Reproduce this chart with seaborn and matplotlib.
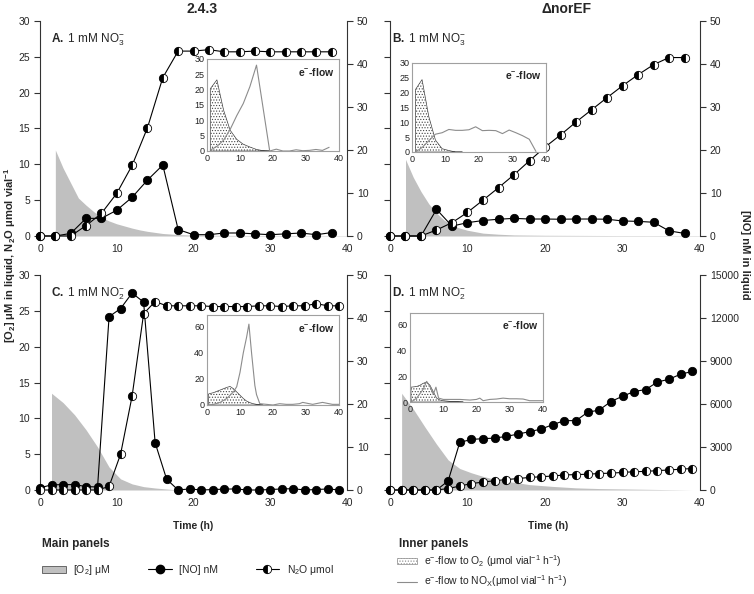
import matplotlib
matplotlib.use("Agg")
import matplotlib.pyplot as plt
import seaborn as sns
from matplotlib.lines import Line2D
from matplotlib.patches import Patch

# ---------------- data ----------------
# Panel A (2.4.3, 1 mM NO3-)
t_A = [0, 2, 4, 6, 8, 10, 12, 14, 16, 18, 20, 22, 24, 26, 28, 30, 32, 34, 36, 38]
n2o_A = [0, 0, 0, 1.45, 3.15, 5.95, 9.85, 15.1, 22.1, 25.8, 25.8, 26.0, 25.7, 25.7, 25.8, 25.7, 25.7, 25.7, 25.7, 25.7]
no_A = [0, 0, 0.6, 4.1, 4.1, 6.0, 9.0, 13.0, 16.5, 1.5, 0.3, 0.3, 0.7, 0.7, 0.5, 0.3, 0.5, 0.7, 0.3, 0.8]
o2_t_A = [2, 3, 4, 5, 6, 7, 8, 9, 10, 11, 12, 13, 14, 15, 16, 18, 20, 25, 30, 35, 40]
o2_A = [12.0, 9.5, 7.4, 5.3, 4.3, 3.4, 2.6, 2.1, 1.7, 1.4, 1.1, 0.85, 0.65, 0.5, 0.35, 0.2, 0.12, 0.08, 0.06, 0.05, 0.05]

# Panel B (ΔnorEF, 1 mM NO3-)
t_B = [0, 2, 4, 6, 8, 10, 12, 14, 16, 18, 20, 22, 24, 26, 28, 30, 32, 34, 36, 38]
n2o_B = [0, 0, 0, 0.84, 1.86, 3.3, 5.0, 6.74, 8.55, 10.5, 12.4, 14.1, 15.9, 17.6, 19.3, 20.96, 22.5, 23.9, 24.9, 24.9]
no_B = [0, 0, 0, 6.2, 2.3, 3.1, 3.6, 3.9, 4.1, 3.95, 3.95, 3.9, 3.95, 3.95, 3.9, 3.5, 3.4, 3.2, 1.2, 0.6]
o2_t_B = [2, 3, 4, 5, 6, 7, 8, 9, 10, 11, 12, 14, 16, 20, 25, 30, 40]
o2_B = [10.7, 8.2, 6.2, 4.5, 3.2, 2.2, 1.5, 1.1, 0.8, 0.6, 0.4, 0.25, 0.15, 0.1, 0.08, 0.06, 0.05]

# Panel C (2.4.3, 1 mM NO2-)
t_C = [0, 1.5, 3, 4.5, 6, 7.5, 9, 10.5, 12, 13.5, 15, 16.5, 18, 19.5, 21, 22.5, 24, 25.5, 27, 28.5, 30, 31.5, 33, 34.5, 36, 37.5, 39]
n2o_C = [0, 0, 0, 0, 0, 0, 0.5, 5.0, 13.1, 24.6, 26.3, 25.7, 25.7, 25.7, 25.7, 25.6, 25.6, 25.6, 25.6, 25.7, 25.7, 25.6, 25.7, 25.7, 26.0, 25.7, 25.7]
no_C = [0.5, 1.2, 1.25, 1.25, 0.8, 0.7, 40.3, 42.2, 45.8, 43.7, 11.0, 2.5, 0, 0.25, 0, 0.1, 0.2, 0.25, 0, 0, 0.1, 0.25, 0.3, 0, 0.1, 0.25, 0]
o2_t_C = [1.5, 3, 4.5, 6, 7.5, 9, 10.5, 12, 13.5, 15, 16.5, 18]
o2_C = [13.5, 12.2, 10.5, 8.4, 6.0, 3.2, 1.55, 0.85, 0.47, 0.28, 0.14, 0.0]

# Panel D (ΔnorEF, 1 mM NO2-)
t_D = [0, 1.5, 3, 4.5, 6, 7.5, 9, 10.5, 12, 13.5, 15, 16.5, 18, 19.5, 21, 22.5, 24, 25.5, 27, 28.5, 30, 31.5, 33, 34.5, 36, 37.5, 39]
n2o_D = [0, 0, 0, 0, 0, 0.2, 0.55, 0.9, 1.1, 1.3, 1.45, 1.6, 1.75, 1.85, 1.95, 2.1, 2.15, 2.2, 2.3, 2.35, 2.45, 2.55, 2.6, 2.7, 2.8, 2.9, 3.0]
no_D = [0, 0, 0, 0, 0, 630, 3320, 3530, 3580, 3620, 3740, 3900, 4070, 4250, 4560, 4840, 4840, 5420, 5580, 6170, 6540, 6870, 7010, 7530, 7730, 8080, 8270]
o2_t_D = [1.5, 3, 4.5, 6, 7.5, 9, 10.5, 12, 13.5, 15, 16.5, 18, 21, 24, 27, 30, 33, 36, 39]
o2_D = [13.5, 11.3, 8.8, 6.4, 4.2, 3.0, 2.4, 1.9, 1.5, 1.2, 1.0, 0.75, 0.5, 0.3, 0.2, 0.15, 0.1, 0.05, 0.0]

# Inner panels: electron flow
ef_o2_t_A = [1, 3, 5, 7, 9, 11, 13, 15, 17, 19]
ef_o2_A = [20.3, 23.2, 13.4, 6.8, 3.8, 2.2, 1.3, 0.5, 0.1, 0]
ef_nox_t_A = [1, 3, 5, 7, 9, 11, 13, 15, 17, 19, 21, 23, 25, 27, 29, 31, 33, 35, 37]
ef_nox_A = [0.3, 1.5, 3.5, 7, 11.5, 15.5, 21, 28, 14, 0, 0.6, 0, 0, 0.4, 0.1, 0.2, 0.5, 0.2, 1.2]

ef_o2_t_B = [1, 3, 5, 7, 9, 11, 13, 15]
ef_o2_B = [21, 24.4, 12, 4, 1.1, 0.5, 0, 0]
ef_nox_t_B = [1, 3, 5, 7, 9, 11, 13, 15, 17, 19, 21, 23, 25, 27, 29, 31, 33, 35, 37]
ef_nox_B = [0, 1.5, 3.8, 6, 6.5, 7.6, 7.3, 7.3, 7.5, 8.5, 7.2, 7.3, 7.2, 6.2, 7.4, 6.5, 5.5, 4.3, 0.2]

ef_o2_t_C = [0.5, 2, 4, 6, 7, 8, 9, 10, 11, 12, 13, 14, 15, 16, 17]
ef_o2_C = [8.5, 9.5, 11.5, 13.5, 14.2, 12.5, 10, 7.5, 5, 3, 1.8, 1, 0.5, 0.2, 0]
ef_nox_t_C = [0.5, 2, 4, 6, 8, 9, 10, 11, 12, 12.7, 13.5, 14.5, 15, 16, 18, 20, 22, 24, 26, 28, 29, 30, 32, 34, 35, 36, 38, 40]
ef_nox_C = [0, 0.5, 2, 5, 10, 14, 25, 40, 52, 62, 40, 15, 8, 1, 0.5, 0, 1, 0.5, 0.5, 1, 2, 1.5, 0.5, 1.5, 2, 1.5, 0.5, 0.5]

ef_o2_t_D = [0.3, 2, 3, 4, 5, 6, 7, 8, 9, 10, 12, 14, 16]
ef_o2_D = [11.5, 12, 13, 14.5, 15.5, 13, 8, 3, 1.5, 1, 0.5, 0.3, 0]
ef_nox_t_D = [0.3, 2, 4, 5, 6, 7, 7.8, 8.6, 10, 12, 15, 18, 20, 21, 22, 24, 26, 28, 30, 32, 34, 36, 38, 40]
ef_nox_D = [0, 3, 10, 16, 12, 6, 11.5, 3, 2, 2, 2, 1.5, 2, 3, 1, 2, 2.3, 3, 2.5, 2.5, 2.3, 1, 1, 1]

x_ticks = [0, 10, 20, 30, 40]
left_ticks = [0, 5, 10, 15, 20, 25, 30]
right_ticks_50 = [0, 10, 20, 30, 40, 50]
right_ticks_D = [0, 3000, 6000, 9000, 12000, 15000]

# ---------------- style ----------------
sns.set_theme(style="white")
plt.rcParams.update({
    "font.family": ["Liberation Sans", "DejaVu Sans"],
    "mathtext.fontset": "custom",
    "mathtext.rm": "Liberation Sans",
    "mathtext.it": "Liberation Sans:italic",
    "mathtext.bf": "Liberation Sans:bold",
    "mathtext.default": "regular",
    "hatch.color": "#444444",
    "hatch.linewidth": 0.5,
})

W, H = 754, 594
fig = plt.figure(figsize=(W / 100, H / 100), dpi=100)

def fr(x0, y0, x1, y1):
    return [x0 / W, 1 - y1 / H, (x1 - x0) / W, (y1 - y0) / H]

O2_COLOR = "#c0c0c0"
SPINE = "#333333"
TICK_FS = 7.5


def main_panel(rect, t, n2o, no, o2t, o2, rlim, rticks, label, left_labels):
    ax = fig.add_axes(rect)
    ax.fill_between(o2t, o2, 0, color=O2_COLOR, linewidth=0, zorder=1)
    ax.set_xlim(0, 40)
    ax.set_ylim(0, 30)
    ax.set_xticks(x_ticks)
    ax.set_yticks(left_ticks)
    for s in ["top", "bottom", "right"]:
        ax.spines[s].set_visible(False)
    ax.spines["left"].set_color(SPINE)
    ax.spines["left"].set_linewidth(0.8)
    ax.tick_params(axis="y", direction="out", length=4, width=0.8, color=SPINE,
                   labelsize=TICK_FS, pad=3, labelleft=left_labels, left=True)
    ax.tick_params(axis="x", length=0, labelsize=TICK_FS, pad=6)
    ax.grid(False)

    ax2 = ax.twinx()
    sns.lineplot(x=t, y=no, ax=ax2, color="black", marker="o", markersize=6,
                 linewidth=0.8, markeredgecolor="black", markeredgewidth=0.6,
                 clip_on=False, sort=False, estimator=None)
    ax2.set_ylim(*rlim)
    ax2.set_yticks(rticks)
    for s in ["top", "bottom", "left"]:
        ax2.spines[s].set_visible(False)
    ax2.spines["right"].set_color(SPINE)
    ax2.spines["right"].set_linewidth(0.8)
    ax2.tick_params(axis="y", direction="out", length=4, width=0.8, color=SPINE,
                    labelsize=TICK_FS, pad=3, right=True)
    ax2.set_ylabel("")
    ax2.grid(False)

    ax3 = ax.twinx()
    sns.lineplot(x=t, y=n2o, ax=ax3, color="black", marker="o", markersize=6,
                 linewidth=0.8, markeredgecolor="black", markeredgewidth=0.6,
                 fillstyle="left", markerfacecolor="black",
                 markerfacecoloralt="white", clip_on=False, sort=False,
                 estimator=None)
    ax3.set_ylim(0, 30)
    ax3.set_axis_off()

    ax.set_xlim(0, 40)
    ax.text(0.035 if left_labels else 0.008, 0.915, label, transform=ax.transAxes,
            fontsize=8.5, ha="left", va="center")
    return ax


def inset(rect, o2t, o2, noxt, nox, ylim, yticks):
    ai = fig.add_axes(rect)
    ai.set_facecolor("white")
    ai.fill_between(o2t, o2, 0, facecolor="white", edgecolor="#444444",
                    hatch="......", linewidth=0.5, zorder=2)
    sns.lineplot(x=noxt, y=nox, ax=ai, color="#8c8c8c", linewidth=0.8,
                 sort=False, estimator=None, zorder=3)
    ai.set_xlim(0, 40)
    ai.set_ylim(*ylim)
    ai.set_xticks(x_ticks)
    ai.set_yticks(yticks)
    for s in ai.spines.values():
        s.set_visible(True)
        s.set_color("#a0a0a0")
        s.set_linewidth(0.8)
    ai.tick_params(axis="both", length=0, labelsize=6.5, pad=2, colors="#222222")
    ai.grid(False)
    ai.set_xlabel("")
    ai.set_ylabel("")
    ai.text(0.97, 0.86, "e$^{-}$-flow", transform=ai.transAxes, ha="right",
            va="center", fontsize=7.5, fontweight="bold")
    return ai


axA = main_panel(fr(40, 21, 347, 236), t_A, n2o_A, no_A, o2_t_A, o2_A, (0, 50),
                 right_ticks_50, r"$\mathbf{A.}$ 1 mM NO$_3^{-}$", True)
axB = main_panel(fr(390, 21, 700, 236), t_B, n2o_B, no_B, o2_t_B, o2_B, (0, 50),
                 right_ticks_50, r"$\mathbf{B.}$ 1 mM NO$_3^{-}$", False)
axC = main_panel(fr(40, 275, 347, 490), t_C, n2o_C, no_C, o2_t_C, o2_C, (0, 50),
                 right_ticks_50, r"$\mathbf{C.}$ 1 mM NO$_2^{-}$", True)
axD = main_panel(fr(390, 275, 700, 490), t_D, n2o_D, no_D, o2_t_D, o2_D, (0, 15000),
                 right_ticks_D, r"$\mathbf{D.}$ 1 mM NO$_2^{-}$", False)

inset(fr(207, 59, 339, 151), ef_o2_t_A, ef_o2_A, ef_nox_t_A, ef_nox_A, (0, 30), [0, 5, 10, 15, 20, 25, 30])
inset(fr(412, 63, 546, 152), ef_o2_t_B, ef_o2_B, ef_nox_t_B, ef_nox_B, (0, 30), [0, 5, 10, 15, 20, 25, 30])
inset(fr(207, 315, 339, 405), ef_o2_t_C, ef_o2_C, ef_nox_t_C, ef_nox_C, (0, 69), [0, 20, 40, 60])
inset(fr(410, 313, 543, 402), ef_o2_t_D, ef_o2_D, ef_nox_t_D, ef_nox_D, (0, 69), [0, 20, 40, 60])

# column titles
fig.text(202 / W, 1 - 9 / H, "2.4.3", fontsize=10, fontweight="bold", ha="center", va="center")
fig.text(567 / W, 1 - 9 / H, "\u0394norEF", fontsize=10, fontweight="bold", ha="center", va="center")

# axis labels
fig.text(193 / W, 1 - 526 / H, "Time (h)", fontsize=7.5, fontweight="bold", ha="center", va="center")
fig.text(548 / W, 1 - 526 / H, "Time (h)", fontsize=7.5, fontweight="bold", ha="center", va="center")
fig.text(10 / W, 1 - 255 / H, r"[O$_2$] μM in liquid, N$_2$O μmol vial$^{-1}$", fontsize=8,
         fontweight="bold", rotation=90, ha="center", va="center")
fig.text(745 / W, 1 - 255 / H, "[NO] nM in liquid", fontsize=8, fontweight="bold",
         rotation=270, ha="center", va="center")

# legends
fig.text(42 / W, 1 - 544 / H, "Main panels", fontsize=8.5, fontweight="bold", ha="left", va="center")
fig.text(399 / W, 1 - 544 / H, "Inner panels", fontsize=8.5, fontweight="bold", ha="left", va="center")

main_handles = [
    Patch(facecolor=O2_COLOR, edgecolor="#555555", linewidth=0.6),
    Line2D([0], [0], color="black", lw=0.8, marker="o", markersize=6,
           markerfacecolor="black", markeredgecolor="black"),
    Line2D([0], [0], color="black", lw=0.8, marker="o", markersize=6,
           fillstyle="left", markerfacecolor="black", markerfacecoloralt="white",
           markeredgecolor="black", markeredgewidth=0.6),
]
main_labels = ["[O$_2$] μM", "[NO] nM", "N$_2$O μmol"]
fig.legend(main_handles, main_labels, loc="center left", bbox_to_anchor=(42 / W, 1 - 570 / H),
           ncol=3, frameon=False, fontsize=7.5, handlelength=2.3, handletextpad=0.7,
           columnspacing=3.6, borderpad=0, borderaxespad=0)

inner_handles = [
    Patch(facecolor="white", edgecolor="#888888", hatch="......", linewidth=0.5),
    Line2D([0], [0], color="#8c8c8c", lw=0.8),
]
inner_labels = [r"e$^{-}$-flow to O$_2$ (μmol vial$^{-1}$ h$^{-1}$)",
                r"e$^{-}$-flow to NO$_X$(μmol vial$^{-1}$ h$^{-1}$)"]
fig.legend(inner_handles, inner_labels, loc="center left", bbox_to_anchor=(397 / W, 1 - 571 / H),
           ncol=1, frameon=False, fontsize=7.5, handlelength=1.9, handleheight=0.45,
           handletextpad=0.7, labelspacing=0.45, borderpad=0, borderaxespad=0)

fig.savefig("out.png", dpi=100)
